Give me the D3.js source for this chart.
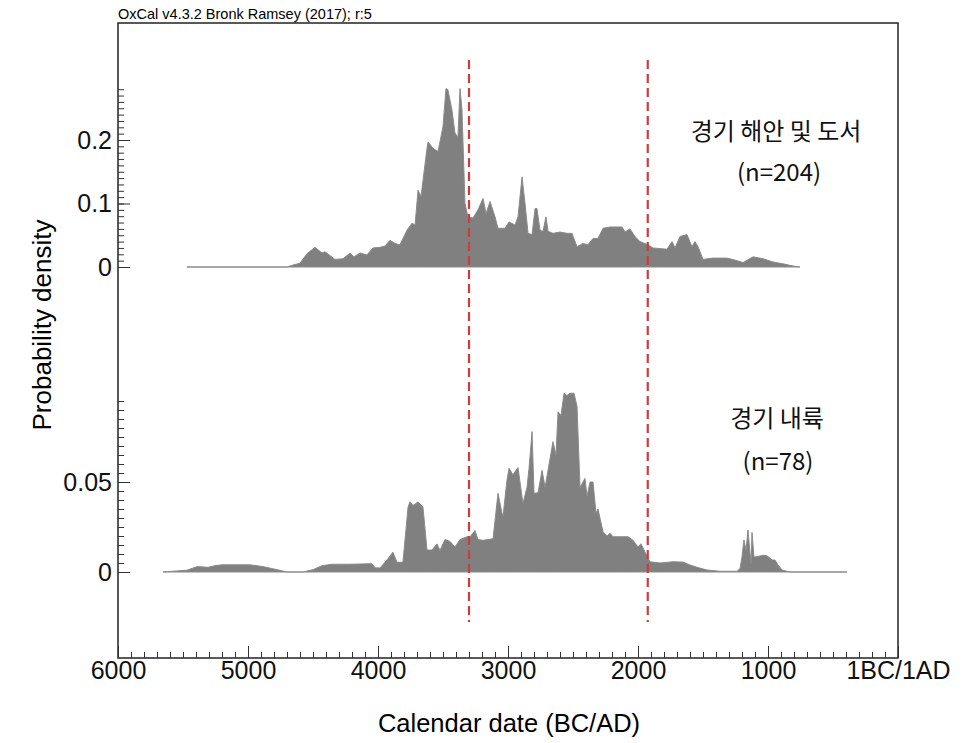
<!DOCTYPE html>
<html>
<head>
<meta charset="utf-8">
<script src="https://cdn.jsdelivr.net/npm/d3@7"></script>
<style>
  body { margin: 0; background: #fff; }
  svg { display: block; }
</style>
</head>
<body>
<script>
// summed probability, Gyeonggi coast & islands (n=204)
let coastYears = [5470, 4700, 4654, 4600, 4546, 4485, 4431, 4408, 4331, 4269, 4215, 4185, 4138, 4085, 4038, 3985, 3946, 3908, 3869, 3831,
    3777, 3738, 3715, 3692, 3669, 3623, 3615, 3577, 3538, 3500, 3477, 3462, 3431, 3408, 3385, 3369, 3354, 3331, 3308, 3269,
    3231, 3192, 3169, 3138, 3100, 3077, 3023, 2992, 2946, 2923, 2892, 2869, 2846, 2815, 2792, 2777, 2754, 2731, 2708, 2692,
    2654, 2600, 2546, 2508, 2469, 2423, 2385, 2346, 2308, 2269, 2215, 2177, 2123, 2100, 2062, 2023, 1985, 1923, 1885, 1777,
    1738, 1715, 1677, 1623, 1585, 1562, 1538, 1500, 1423, 1315, 1238, 1192, 1115, 1038, 962, 885, 808, 754]
let coastDensity = [0, 0, 0.003, 0.006, 0.021, 0.031, 0.022, 0.024, 0.012, 0.013, 0.022, 0.016, 0.022, 0.019, 0.03, 0.031, 0.033, 0.042, 0.037, 0.035,
    0.058, 0.069, 0.066, 0.121, 0.111, 0.187, 0.197, 0.187, 0.182, 0.221, 0.281, 0.279, 0.247, 0.211, 0.204, 0.281, 0.247, 0.1, 0.079, 0.077,
    0.09, 0.108, 0.084, 0.103, 0.079, 0.061, 0.061, 0.071, 0.066, 0.079, 0.142, 0.1, 0.053, 0.051, 0.092, 0.092, 0.058, 0.056, 0.079, 0.056,
    0.053, 0.055, 0.053, 0.053, 0.032, 0.037, 0.035, 0.045, 0.045, 0.061, 0.063, 0.063, 0.063, 0.055, 0.06, 0.048, 0.04, 0.035, 0.03, 0.028,
    0.04, 0.03, 0.048, 0.051, 0.032, 0.04, 0.032, 0.012, 0.014, 0.014, 0.01, 0.007, 0.016, 0.013, 0.008, 0.005, 0.0016, 0]

// summed probability, Gyeonggi inland (n=78)
let inlandYears = [5654, 5469, 5392, 5308, 5254, 5200, 4985, 4885, 4777, 4700, 4577, 4500, 4431, 4354, 4215, 4062, 4046, 4023, 3985, 3931,
    3885, 3854, 3808, 3769, 3754, 3731, 3692, 3654, 3623, 3585, 3546, 3523, 3485, 3446, 3408, 3369, 3315, 3292, 3254, 3231,
    3192, 3115, 3077, 3046, 3038, 3008, 2992, 2962, 2923, 2885, 2854, 2838, 2815, 2800, 2769, 2738, 2715, 2692, 2654, 2631,
    2615, 2592, 2569, 2546, 2523, 2492, 2469, 2446, 2408, 2392, 2369, 2346, 2323, 2308, 2269, 2238, 2215, 2192, 2077, 2038,
    2000, 1977, 1946, 1908, 1831, 1731, 1654, 1600, 1546, 1469, 1369, 1238, 1215, 1200, 1185, 1169, 1154, 1131, 1123, 1108,
    1085, 1038, 1008, 969, 946, 923, 892, 831, 392]
let inlandDensity = [0, 0.001, 0.003, 0.0026, 0.0035, 0.004, 0.004, 0.003, 0.0013, 0, 0, 0.0013, 0.0035, 0.0043, 0.0043, 0.0046, 0.0046, 0.0024, 0.0022, 0.0067,
    0.011, 0.0054, 0.0054, 0.036, 0.039, 0.037, 0.0389, 0.036, 0.0122, 0.0122, 0.0156, 0.012, 0.018, 0.017, 0.0139, 0.018, 0.0196, 0.0196, 0.023, 0.018,
    0.0176, 0.0185, 0.0437, 0.0326, 0.031, 0.051, 0.0576, 0.054, 0.058, 0.038, 0.047, 0.0576, 0.078, 0.0437, 0.044, 0.0565, 0.047, 0.0565, 0.0724, 0.065,
    0.089, 0.087, 0.0993, 0.098, 0.0993, 0.0993, 0.092, 0.047, 0.052, 0.042, 0.05, 0.05, 0.0326, 0.035, 0.0224, 0.02, 0.0215, 0.0196, 0.0196, 0.0176,
    0.0139, 0.0157, 0.011, 0.0057, 0.005, 0.0057, 0.0055, 0.0039, 0.0026, 0.0011, 0.0004, 0.0004, 0.002, 0.0085, 0.0178, 0.012, 0.0233, 0.0046, 0.022, 0.0083,
    0.0085, 0.0093, 0.009, 0.0067, 0.0066, 0.0039, 0.0011, 0, 0]

let xMajor = [6000, 5000, 4000, 3000, 2000, 1000, 0]
let xLabels = ["6000", "5000", "4000", "3000", "2000", "1000", "1BC/1AD"]
let coastMajor = [0, 0.1, 0.2]
let coastLabels = ["0", "0.1", "0.2"]
let inlandMajor = [0, 0.05]
let inlandLabels = ["0", "0.05"]
let markerYears = [3300, 1925]

let w = 975, h = 743
let frameL = 118, frameR = 898, frameT = 23, frameB = 658
let font = "Liberation Sans, Arial, sans-serif"
let kr = "'Noto Sans CJK KR', sans-serif"

let svg = d3.select("body").append("svg")
    .attr("width", w)
    .attr("height", h)

let x = d3.scaleLinear().domain([6000, 0]).range([frameL, frameR])
let yCoast = d3.scaleLinear().domain([0, 0.1]).range([267, 203.5])
let yInland = d3.scaleLinear().domain([0, 0.05]).range([572, 482])

let coast = coastYears.map((d, i) => [d, coastDensity[i]])
let inland = inlandYears.map((d, i) => [d, inlandDensity[i]])

//areas
let drawArea = (data, y) => {
    svg.append("path")
        .datum(data)
        .attr("fill", "#808080")
        .attr("stroke", "#8a8a8a")
        .attr("stroke-width", 1)
        .attr("d", d3.area().x(d => x(d[0])).y0(y(0)).y1(d => y(d[1])))
}
drawArea(coast, yCoast)
drawArea(inland, yInland)

//frame
svg.append("rect")
    .attr("x", frameL).attr("y", frameT)
    .attr("width", frameR - frameL).attr("height", frameB - frameT)
    .attr("fill", "none").attr("stroke", "#222").attr("stroke-width", 1.5)

//x axis
svg.append("g")
    .attr("transform", "translate(0," + frameB + ")")
    .call(d3.axisBottom(x).tickValues(d3.range(0, 6000, 100)).tickSizeInner(-6).tickSizeOuter(0).tickFormat(""))
svg.append("g")
    .attr("transform", "translate(0," + frameB + ")")
    .call(d3.axisBottom(x).tickValues(xMajor).tickSizeInner(-12).tickSizeOuter(0).tickPadding(3)
        .tickFormat((d, i) => xLabels[i]))

//y axes
let yAxis = (y, major, labels, minorMax, step) => {
    svg.append("g")
        .attr("transform", "translate(" + frameL + ",0)")
        .call(d3.axisLeft(y).tickValues(d3.range(0, minorMax + step / 2, step)).tickSizeInner(-6).tickSizeOuter(0).tickFormat(""))
    svg.append("g")
        .attr("transform", "translate(" + frameL + ",0)")
        .call(d3.axisLeft(y).tickValues(major).tickSizeInner(-12).tickSizeOuter(0).tickPadding(6)
            .tickFormat((d, i) => labels[i]))
}
yAxis(yCoast, coastMajor, coastLabels, 0.28, 0.01)
yAxis(yInland, inlandMajor, inlandLabels, 0.095, 0.005)

svg.selectAll(".domain").remove()
svg.selectAll(".tick line").attr("stroke", "#333")
svg.selectAll(".tick text").attr("font-family", font).attr("font-size", 25).attr("fill", "#111")

//marker lines
svg.selectAll(".marker")
    .data(markerYears)
    .enter()
    .append("line")
    .attr("class", "marker")
    .attr("x1", d => x(d)).attr("x2", d => x(d))
    .attr("y1", 60).attr("y2", 622)
    .attr("stroke", "#cc3c3c")
    .attr("stroke-width", 2.2)
    .attr("stroke-dasharray", "9,5")

//texts
svg.append("text")
    .attr("x", frameL).attr("y", 19)
    .attr("font-family", font).attr("font-size", 14.5)
    .text("OxCal v4.3.2 Bronk Ramsey (2017); r:5")

svg.append("text")
    .attr("transform", "translate(51,325) rotate(-90)")
    .attr("text-anchor", "middle")
    .attr("font-family", font).attr("font-size", 26)
    .text("Probability density")

svg.append("text")
    .attr("x", 509).attr("y", 732)
    .attr("text-anchor", "middle")
    .attr("font-family", font).attr("font-size", 25.5)
    .text("Calendar date (BC/AD)")

let labels = [
    {t: "경기 해안 및 도서", x: 776, y: 140},
    {t: "(n=204)", x: 779, y: 181},
    {t: "경기 내륙", x: 777, y: 427},
    {t: "(n=78)", x: 778, y: 470}
]
svg.selectAll(".lbl")
    .data(labels)
    .enter()
    .append("text")
    .attr("class", "lbl")
    .attr("x", d => d.x).attr("y", d => d.y)
    .attr("text-anchor", "middle")
    .attr("font-family", kr).attr("font-size", 24)
    .attr("fill", "#111")
    .text(d => d.t)
</script>
</body>
</html>
